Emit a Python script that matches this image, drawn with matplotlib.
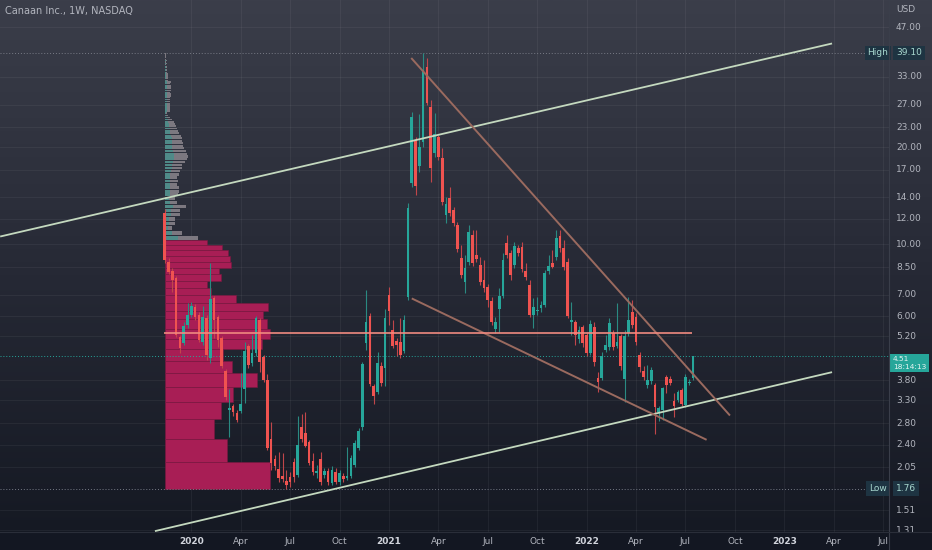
import numpy as np
import pandas as pd
import matplotlib
matplotlib.use('Agg')
import matplotlib.pyplot as plt
import matplotlib.dates as mdates
from matplotlib.colors import LinearSegmentedColormap

# Canaan Inc. (CAN) weekly bars, NASDAQ
weeks = pd.date_range('2019-11-18', periods=140, freq='7D')

opens = [12.55, 8.83, 8.28, 7.87, 5.18, 4.96, 5.64, 6.05, 6.41, 6.05,
         5.00, 5.93, 4.46, 6.83, 5.97, 5.14, 4.06, 3.08, 3.17, 3.01,
         3.06, 3.57, 4.86, 4.31, 4.62, 5.84, 4.49, 3.81, 2.50, 2.17,
         2.02, 1.92, 1.86, 1.91, 2.13, 1.94, 2.73, 2.62, 2.45, 2.14,
         1.97, 2.17, 1.94, 2.00, 1.83, 1.98, 1.84, 1.92, 1.90, 1.92,
         2.08, 2.35, 2.73, 4.96, 6.01, 3.66, 3.49, 4.22, 4.16, 6.98,
         5.44, 5.03, 5.00, 4.69, 6.88, 15.49, 21.03, 17.48, 20.73, 35.36,
         26.59, 19.17, 21.48, 18.50, 12.33, 13.92, 12.78, 11.48, 9.08, 7.65,
         8.83, 10.69, 9.28, 8.64, 7.76, 7.39, 6.69, 5.48, 6.32, 6.92,
         10.10, 9.41, 8.64, 9.75, 9.82, 8.28, 7.49, 6.05, 6.23, 6.36,
         6.50, 8.28, 8.77, 9.15, 10.61, 9.75, 8.83, 5.76, 5.76, 5.10,
         5.56, 5.25, 4.62, 5.56, 3.87, 3.87, 4.72, 4.82, 5.33, 4.86,
         5.22, 3.84, 5.33, 6.18, 5.97, 4.56, 4.06, 3.67, 3.79, 3.69,
         3.03, 3.08, 3.90, 3.85, 3.28, 3.31, 3.55, 3.19, 3.74, 3.87]

highs = [12.90, 9.08, 8.46, 7.99, 5.25, 5.76, 6.59, 6.64, 6.54, 6.18,
         6.45, 6.05, 8.77, 6.93, 6.05, 5.22, 4.12, 3.57, 3.21, 3.08,
         4.00, 5.00, 4.93, 5.25, 6.01, 5.93, 4.55, 3.98, 2.83, 2.23,
         2.28, 2.27, 2.01, 1.98, 2.19, 2.95, 2.99, 3.03, 2.49, 2.27,
         2.08, 2.28, 2.04, 2.04, 2.07, 2.04, 2.01, 1.97, 2.37, 2.23,
         2.49, 2.71, 4.33, 7.23, 6.14, 3.71, 4.66, 4.34, 6.32, 7.39,
         5.84, 5.14, 5.93, 6.05, 13.45, 25.66, 21.48, 25.30, 39.10, 37.70,
         27.95, 25.48, 21.79, 19.86, 14.02, 15.05, 13.05, 11.73, 9.96, 9.28,
         11.48, 11.08, 11.08, 9.15, 8.95, 7.54, 6.88, 5.97, 7.34, 9.41,
         10.69, 9.61, 10.17, 9.96, 10.17, 8.77, 7.76, 6.83, 6.88, 6.69,
         8.34, 9.28, 9.61, 11.08, 11.08, 10.32, 9.08, 6.64, 5.84, 5.60,
         5.64, 5.37, 5.84, 5.76, 4.04, 4.66, 5.25, 5.93, 5.44, 6.59,
         5.29, 5.44, 6.88, 6.73, 6.14, 4.66, 4.22, 4.25, 4.19, 3.74,
         3.17, 3.63, 3.96, 3.93, 3.48, 3.55, 3.60, 3.98, 3.84, 4.53]

lows = [8.75, 8.10, 7.13, 5.18, 4.62, 4.89, 5.52, 5.97, 5.84, 5.00,
        4.89, 4.39, 4.31, 5.14, 4.82, 4.16, 3.30, 2.54, 2.95, 2.83,
        3.01, 3.24, 4.16, 4.22, 4.53, 4.03, 3.76, 2.32, 2.01, 2.01,
        1.84, 1.84, 1.76, 1.78, 1.84, 1.91, 2.45, 2.37, 2.08, 1.94,
        1.90, 1.81, 1.90, 1.81, 1.81, 1.82, 1.81, 1.84, 1.87, 1.90,
        2.05, 2.32, 2.67, 4.72, 3.66, 3.21, 3.44, 3.66, 3.64, 5.64,
        4.79, 4.53, 4.46, 4.62, 6.73, 15.05, 14.21, 16.75, 20.00, 27.00,
        15.60, 18.63, 18.24, 13.24, 11.65, 12.24, 11.41, 9.48, 7.87, 7.08,
        8.64, 8.58, 8.83, 7.49, 7.13, 6.41, 5.64, 5.33, 5.37, 6.83,
        9.08, 7.76, 8.46, 9.21, 8.22, 7.76, 5.97, 5.52, 6.05, 6.18,
        6.41, 8.10, 8.46, 8.95, 9.48, 8.34, 5.93, 5.25, 4.89, 4.96,
        4.82, 4.53, 4.56, 4.22, 3.50, 3.81, 4.66, 4.72, 4.72, 4.79,
        4.09, 3.26, 5.22, 5.52, 4.89, 4.03, 3.81, 3.60, 3.71, 2.60,
        2.85, 2.87, 3.48, 3.69, 2.93, 3.26, 3.16, 3.14, 3.69, 3.81]

closes = [8.95, 8.22, 7.76, 5.25, 4.79, 5.60, 6.05, 6.45, 5.97, 5.07,
          5.97, 4.56, 6.78, 5.84, 5.07, 4.22, 3.37, 3.12, 3.03, 2.87,
          3.21, 4.69, 4.25, 4.62, 5.93, 4.33, 3.81, 2.35, 2.11, 2.06,
          1.90, 1.88, 1.81, 1.84, 1.91, 2.40, 2.50, 2.39, 2.11, 1.98,
          2.00, 1.84, 2.00, 1.84, 2.01, 1.84, 1.97, 1.88, 1.92, 2.19,
          2.44, 2.65, 4.27, 5.76, 3.71, 3.39, 4.31, 3.74, 5.93, 6.23,
          4.86, 4.89, 4.56, 5.84, 12.96, 24.77, 15.16, 20.00, 34.61, 27.36,
          17.23, 21.95, 18.63, 13.53, 13.33, 12.51, 11.65, 9.68, 8.04, 8.46,
          10.92, 8.77, 9.01, 7.65, 7.34, 6.73, 5.76, 5.76, 6.92, 8.95,
          9.28, 8.04, 9.89, 9.41, 8.40, 7.93, 6.05, 6.41, 6.27, 6.50,
          8.16, 8.58, 8.52, 10.47, 9.75, 8.52, 6.01, 5.84, 5.25, 5.44,
          4.96, 4.62, 5.68, 4.33, 3.76, 4.53, 4.89, 5.72, 4.82, 5.00,
          4.22, 5.22, 5.84, 5.64, 5.00, 4.19, 3.90, 3.81, 4.09, 3.14,
          3.12, 3.60, 3.67, 3.74, 3.16, 3.50, 3.21, 3.90, 3.76, 4.51]

# visible range volume profile: 100 equal price rows from low to high
vp_low, vp_high = 1.76, 39.10
vp_volume = [105, 62, 49, 56, 68, 92, 67, 58, 97, 105,
             102, 98, 103, 71, 46, 42, 56, 54, 66, 65,
             63, 57, 42, 33, 17, 7, 10, 10, 15, 15,
             21, 12, 10, 13, 14, 14, 12, 13, 12, 14,
             15, 17, 17, 20, 22, 23, 22, 21, 19, 18,
             18, 17, 17, 16, 14, 13, 12, 11, 10, 9,
             7, 5, 3, 2, 5, 5, 5, 5, 5, 5,
             5, 5, 6, 6, 5, 6, 6, 6, 6, 5,
             6, 3, 3, 3, 3, 3, 2, 2, 2, 2,
             2, 1, 2, 1, 2, 1, 1, 1, 1, 1]
value_area_rows = 23

# drawings (date, price)
channel_upper = [('2019-01-19', 10.58), ('2023-03-31', 41.8)]
channel_lower = [('2019-10-31', 1.30), ('2023-03-31', 4.03)]
wedge_upper = [('2021-02-14', 37.7), ('2022-09-24', 2.96)]
wedge_lower = [('2021-02-15', 6.81), ('2022-08-12', 2.49)]
level_line = [('2019-11-17', 5.33), ('2022-07-17', 5.33)]

price_ticks = [47, 33, 27, 23, 20, 17, 14, 12, 10, 8.5, 7, 6, 5.2,
               3.8, 3.3, 2.8, 2.4, 2.05, 1.51, 1.31]
high_price, low_price, last_price = 39.10, 1.76, 4.51
countdown = '18:14:13'

# ---- figure ----
W, H = 932, 550
fig = plt.figure(figsize=(W / 100, H / 100), dpi=100)

bg = fig.add_axes([0, 0, 1, 1])
cmap = LinearSegmentedColormap.from_list('bg', ['#3b3e4a', '#262935', '#141822'])
bg.imshow(np.linspace(0, 1, 256)[:, None], aspect='auto', cmap=cmap,
          extent=[0, 1, 0, 1], origin='upper')
bg.add_patch(plt.Rectangle((0, 0), 1, 18 / H, color='#131722', zorder=2))
bg.axis('off')

ax = fig.add_axes([0, 18 / H, 889 / W, 532 / H])
ax.set_facecolor('none')
ax.set_yscale('log')
for s in ax.spines.values():
    s.set_visible(False)
ax.tick_params(which='both', left=False, labelleft=False,
               bottom=False, labelbottom=False, right=False, top=False)

xw = mdates.date2num(weeks.to_pydatetime())
d0 = xw[0]
px_day = 0.543
ax.set_xlim(d0 - 164.7 / px_day, d0 + (889 - 164.7) / px_day)
ax.set_ylim(1.292, 56.96)

grid_c = (1, 1, 1, 0.05)
txt_c = '#b2b5be'

# price grid + labels
for p in price_ticks:
    ax.axhline(p, color=grid_c, lw=0.7, zorder=0)
    ax.text(1 + 7 / 889, p, f'{p:.2f}', transform=ax.get_yaxis_transform(),
            ha='left', va='center', fontsize=6.5, color=txt_c, clip_on=False)
ax.text(1 + 7 / 889, 1 - 9 / 532, 'USD', transform=ax.transAxes,
        ha='left', va='center', fontsize=6.5, color=txt_c)

# time grid + labels: first weekly bar of each quarter
qs = pd.date_range('2020-01-01', '2023-07-01', freq='QS')
for q in qs:
    first_bar = q + pd.Timedelta(days=(7 - q.weekday()) % 7)
    xq = mdates.date2num(first_bar.to_pydatetime())
    ax.axvline(xq, color=grid_c, lw=0.7, zorder=0)
    if q.month == 1:
        lab, fw, col = str(q.year), 'bold', '#d1d4dc'
    else:
        lab, fw, col = q.strftime('%b'), 'normal', txt_c
    ax.text(xq, -9 / 532, lab, transform=ax.get_xaxis_transform(),
            ha='center', va='center', fontsize=6.5, fontweight=fw,
            color=col, clip_on=False)

# volume profile
step = (vp_high - vp_low) / len(vp_volume)
for i, v in enumerate(vp_volume):
    y0 = vp_low + i * step
    wd = v / px_day
    if i < value_area_rows:
        ax.barh(y0, wd, left=d0, height=step, align='edge',
                color='#a81e55', edgecolor='#7a1840', lw=0.4, zorder=1)
    else:
        ax.barh(y0, wd * 0.4, left=d0, height=step * 0.8, align='edge',
                color='#4f8a88', lw=0, zorder=1)
        ax.barh(y0, wd * 0.6, left=d0 + wd * 0.4, height=step * 0.8,
                align='edge', color='#7c7880', lw=0, zorder=1)

# candles
o = np.array(opens); h = np.array(highs); l = np.array(lows); c = np.array(closes)
up = c >= o
cols = np.where(up, '#26a69a', '#ef5350')
wick_cols = np.where(up, '#2a8a82', '#c0464a')
ax.vlines(xw, l, h, colors=wick_cols, lw=0.8, zorder=3)
body_lo = np.minimum(o, c)
body_hi = np.maximum(o, c)
ax.bar(xw, body_hi - body_lo, bottom=body_lo, width=4.9, color=cols,
       lw=0, zorder=4)

# drawings
def draw(pts, color, lw):
    xs = [mdates.date2num(pd.Timestamp(d).to_pydatetime()) for d, _ in pts]
    ys = [p for _, p in pts]
    ax.plot(xs, ys, color=color, lw=lw, zorder=5, solid_capstyle='butt')

draw(channel_upper, '#c4d9bf', 1.3)
draw(channel_lower, '#c4d9bf', 1.3)
draw(wedge_upper, '#9a6a5f', 1.4)
draw(wedge_lower, '#9a6a5f', 1.4)
draw(level_line, '#f08a80', 1.2)

# high / low / last price markers
ax.axhline(high_price, color='#787b86', lw=0.7, ls=(0, (1, 2)), zorder=2,
           xmax=867 / 889)
ax.axhline(low_price, color='#787b86', lw=0.7, ls=(0, (1, 2)), zorder=2,
           xmax=867 / 889)
ax.axhline(last_price, color='#26a69a', lw=0.7, ls=(0, (1, 2)), zorder=2)

tr = ax.get_yaxis_transform()
for price, name in [(high_price, 'High'), (low_price, 'Low')]:
    ax.text(1 - 11 / 889, price, name, transform=tr, ha='center', va='center',
            fontsize=6.5, color='#a8d8cf', clip_on=False,
            bbox=dict(boxstyle='square,pad=0.3', fc='#1e3442', ec='none'))
    ax.text(1 + 7 / 889, price, f'{price:.2f}', transform=tr, ha='left',
            va='center', fontsize=6.5, color='#a8d8cf', clip_on=False,
            bbox=dict(boxstyle='square,pad=0.3', fc='#1e3442', ec='none'))

ax.text(1 + 4 / 889, last_price, f'{last_price:.2f}\n{countdown}', transform=tr,
        ha='left', va='top', fontsize=5.4, color='#e6f4f2', clip_on=False,
        linespacing=1.25,
        bbox=dict(boxstyle='square,pad=0.35', fc='#26a69a', ec='none'))

# axis separators
fig.add_artist(plt.Line2D([889 / W, 889 / W], [0, 1], color='#3a3e4a', lw=0.8))
fig.add_artist(plt.Line2D([0, 1], [18 / H, 18 / H], color='#2a2e39', lw=0.8))

fig.text(5 / W, 1 - 11 / H, 'Canaan Inc., 1W, NASDAQ', ha='left', va='center',
         fontsize=7, color=txt_c)

fig.savefig('out.png', dpi=100)
